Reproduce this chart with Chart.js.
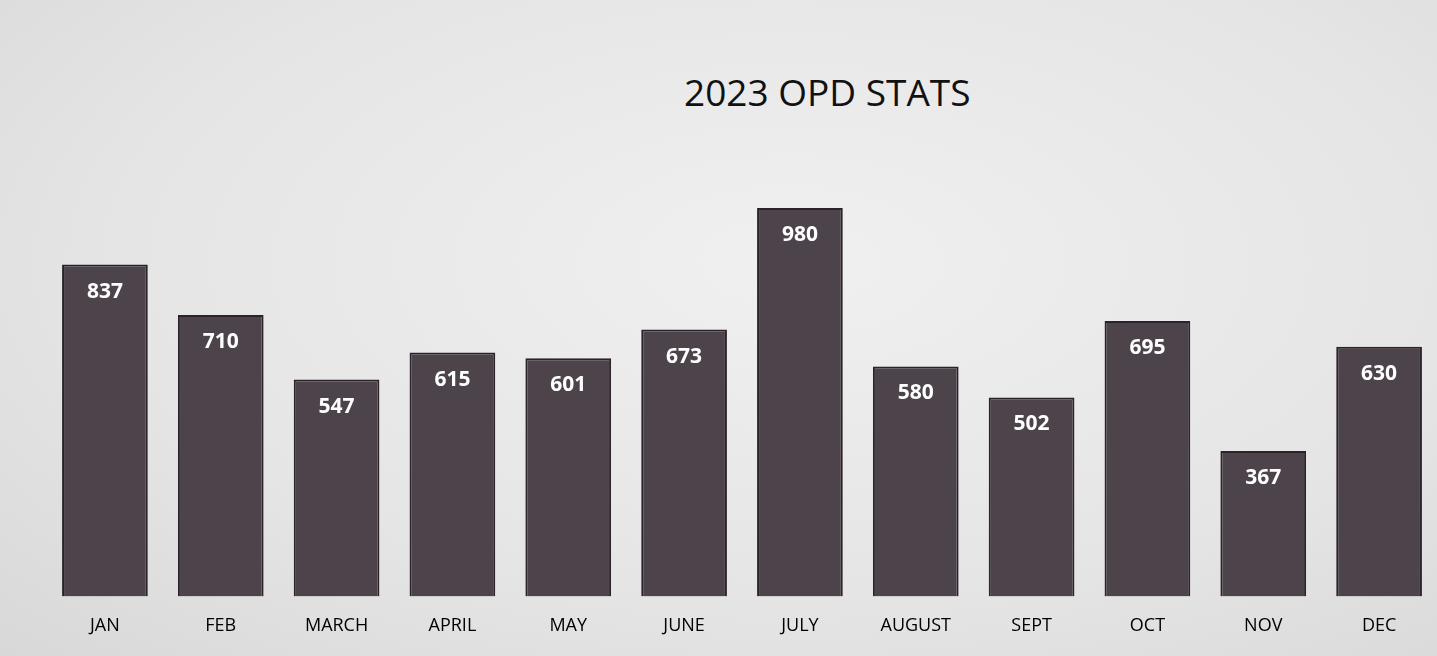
<!DOCTYPE html>
<html>
<head>
<meta charset="utf-8">
<script src="https://cdn.jsdelivr.net/npm/chart.js@4.4.0/dist/chart.umd.min.js"></script>
<style>
  html, body { margin: 0; padding: 0; }
  body {
    width: 1437px; height: 656px; overflow: hidden; position: relative;
    background: radial-gradient(ellipse at 55% 40%, #f1f0f0 0%, #e6e5e5 60%, #d9d8d8 100%);
  }
  #title {
    position: absolute; left: 684px; top: 66px; margin: 0;
    font-family: "Open Sans", sans-serif; font-weight: 400; font-size: 37px; color: #111;
  }
  #wrap { position: absolute; left: 0; top: 0; width: 1437px; height: 656px; }
</style>
</head>
<body>
<h1 id="title">2023 OPD STATS</h1>
<div id="wrap"><canvas id="opdChart"></canvas></div>
<script>
const months = ['JAN', 'FEB', 'MARCH', 'APRIL', 'MAY', 'JUNE', 'JULY', 'AUGUST', 'SEPT', 'OCT', 'NOV', 'DEC'];
const opdCounts = [837, 710, 547, 615, 601, 673, 980, 580, 502, 695, 367, 630];

// valeurs blanches en haut de chaque barre
const valueLabels = {
    id: 'valueLabels',
    afterDatasetsDraw(chart) {
        const ctx = chart.ctx;
        const meta = chart.getDatasetMeta(0);
        ctx.save();
        ctx.font = 'bold 21px "Open Sans", sans-serif';
        ctx.fillStyle = '#ffffff';
        ctx.textAlign = 'center';
        ctx.textBaseline = 'middle';
        meta.data.forEach((bar, i) => {
            ctx.fillText(String(chart.data.datasets[0].data[i]), bar.x, bar.y + 27);
        });
        ctx.restore();
    }
};

const ctx = document.getElementById('opdChart').getContext('2d');
new Chart(ctx, {
    type: 'bar',
    data: {
        labels: months,
        datasets: [{
            label: 'OPD',
            data: opdCounts,
            backgroundColor: '#4d444b',
            borderColor: '#2b2329',
            borderWidth: 2,
            barPercentage: 0.74,
            categoryPercentage: 1.0
        }]
    },
    options: {
        responsive: true,
        maintainAspectRatio: false,
        animation: false,
        layout: { padding: { left: 47, right: 0, top: 200, bottom: 0 } },
        plugins: {
            legend: { display: false },
            title: { display: false },
            tooltip: { enabled: false }
        },
        scales: {
            x: {
                grid: { display: false, drawTicks: false },
                border: { display: false },
                ticks: {
                    color: '#000',
                    padding: 19,
                    font: { family: '"Open Sans", sans-serif', size: 18 }
                }
            },
            y: {
                display: false,
                min: 0,
                max: 1000
            }
        }
    },
    plugins: [valueLabels]
});
</script>
</body>
</html>
